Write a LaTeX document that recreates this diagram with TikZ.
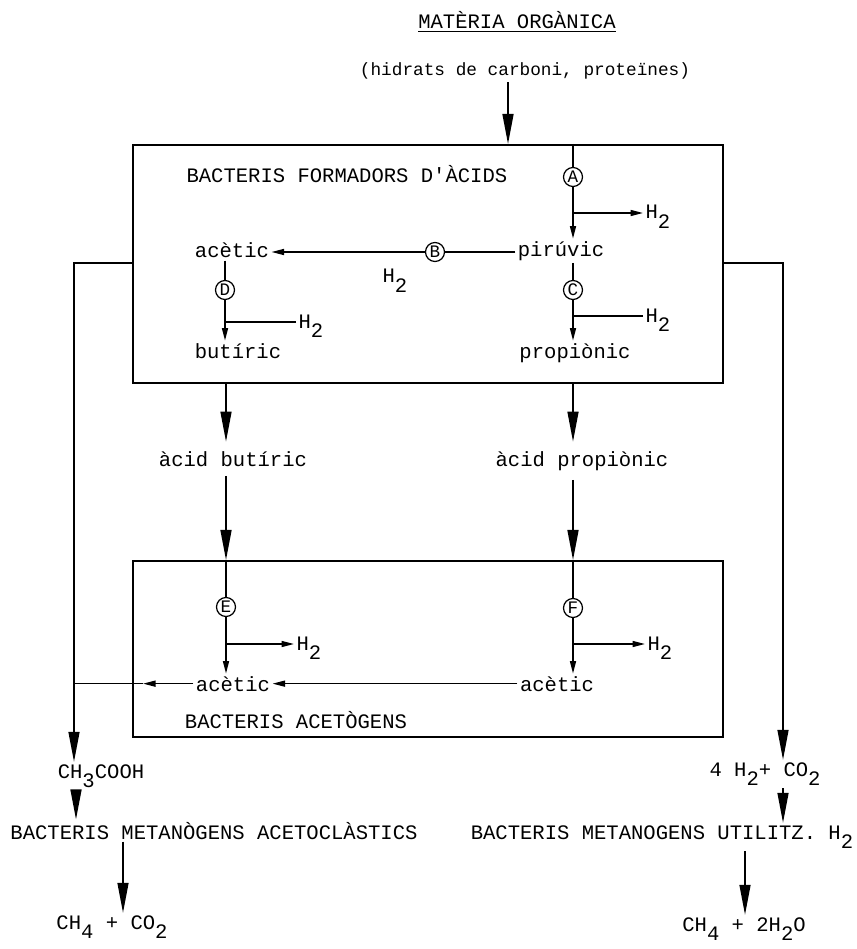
\documentclass[tikz,border=0pt]{standalone}
\usepackage{fontspec}
\setmonofont{Liberation Mono}
\usetikzlibrary{arrows.meta,positioning}
\newcommand{\dn}[1]{\raisebox{-5.5pt}{#1}}

\begin{document}
\begin{tikzpicture}[x=0.02cm,y=-0.02cm,line width=0.85pt,
   every node/.style={font=\ttfamily\fontsize{11.7}{13}\selectfont,inner sep=1pt},
   txt/.style={anchor=base},
   gap/.style={anchor=base,inner sep=5pt},
   box/.style={draw,line width=1.2pt,minimum width=11.8cm,inner sep=0pt},
   enzyme/.style={draw,circle,line width=0.7pt,inner sep=0pt,minimum size=0.38cm,
                  font=\ttfamily\fontsize{10}{10}\selectfont},
   big/.style={-{Triangle[length=0.6cm,width=0.22cm]}},
   small/.style={-{Triangle[length=0.25cm,width=0.12cm]}}]
   \useasboundingbox (0,0) rectangle (856,949);

   % boxes
   \node[box,minimum height=4.76cm] (box_1) at (428,264) {};
   \node[box,minimum height=3.52cm] (box_2) at (428,649) {};

   % columns
   \coordinate (x_in) at (508,0);
   \coordinate (x_L) at (74,0);
   \coordinate (x_R) at (783,0);
   \coordinate (x_1) at (226,0);
   \coordinate (x_2) at (573,0);
   \coordinate (x_3) at (76,0);
   \coordinate (x_4) at (123,0);
   \coordinate (x_5) at (745,0);
   \coordinate (m_L) at (143,0);
   \coordinate (y_exit) at (0,263);

   % top
   \node[txt] (title) at (517,29) {\underline{MATÈRIA ORGÀNICA}};
   \node[txt,font=\ttfamily\fontsize{10.1}{12}\selectfont] (source) at (525,76)
        {(hidrats de carboni, proteïnes)};
   \draw[big] (source.south -| x_in) -- (box_1.north -| x_in);

   % formadors d'acids
   \node[anchor=base west] (lab_1) at (184,183) {BACTERIS FORMADORS D'ÀCIDS};
   \node[enzyme] (c_A) at (573,177) {A};
   \node[txt] (piru) at (561,256) {pirúvic};
   \node[txt] (ace_1) at (232,258) {acètic};
   \node[enzyme] (c_B) at (435,252) {B};
   \node[anchor=base west] (h_B) at (380,283) {H\dn{2}};
   \node[enzyme] (c_C) at (573,290) {C};
   \node[txt] (prop) at (575,358) {propiònic};
   \node[enzyme] (c_D) at (225,290) {D};
   \node[txt] (buti) at (238,358) {butíric};
   \node[anchor=base west] (h_A) at (643,219) {H\dn{2}};
   \node[anchor=base west] (h_C) at (643,322) {H\dn{2}};
   \node[anchor=base west] (h_D) at (296,328) {H\dn{2}};
   \coordinate (b_A) at (573,213);
   \coordinate (b_C) at (573,316);
   \coordinate (b_D) at (225,322);

   \draw (box_1.north -| c_A) -- (c_A);
   \draw[small] (c_A) -- (piru.north -| c_A);
   \draw[small] (b_A) -- (h_A.west |- b_A);
   \draw (piru.west |- c_B) -- (c_B);
   \draw[small] (c_B) -- (ace_1.east |- c_B);
   \draw (piru.south -| c_C) -- (c_C);
   \draw[small] (c_C) -- (prop.north -| c_C);
   \draw (h_C.west |- b_C) -- (b_C);
   \draw (ace_1.south -| c_D) -- (c_D);
   \draw[small] (c_D) -- (buti.north -| c_D);
   \draw (h_D.west |- b_D) -- (b_D);

   % between the boxes
   \node[gap] (ac_bu) at (233,466) {àcid butíric};
   \node[gap] (ac_pr) at (582,466) {àcid propiònic};
   \draw[big] (box_1.south -| x_1) -- (ac_bu.north -| x_1);
   \draw[big] (ac_bu.south -| x_1) -- (box_2.north -| x_1);
   \draw[big] (box_1.south -| x_2) -- (ac_pr.north -| x_2);
   \draw[big] (ac_pr.south -| x_2) -- (box_2.north -| x_2);

   % acetogens
   \node[enzyme] (c_E) at (226,607) {E};
   \node[enzyme] (c_F) at (573,608) {F};
   \node[txt] (ace_2) at (233,691) {acètic};
   \node[txt] (ace_3) at (557,691) {acètic};
   \node[anchor=base west] (h_E) at (294,650) {H\dn{2}};
   \node[anchor=base west] (h_F) at (645,650) {H\dn{2}};
   \node[txt] (lab_2) at (296,728) {BACTERIS ACETÒGENS};
   \coordinate (b_E) at (226,644);
   \coordinate (b_F) at (573,644);

   \draw (box_2.north -| c_E) -- (c_E);
   \draw[small] (c_E) -- (ace_2.north -| c_E);
   \draw[small] (b_E) -- (h_E.west |- b_E);
   \draw (box_2.north -| c_F) -- (c_F);
   \draw[small] (c_F) -- (ace_3.north -| c_F);
   \draw[small] (b_F) -- (h_F.west |- b_F);
   \draw[small] (ace_3.west) -- (ace_2.east);
   \draw[small] (ace_2.west) -- (m_L |- ace_2.west);
   \draw (m_L |- ace_2.west) -- (x_L |- ace_2.west);

   % metanogens
   \node[txt] (ch3) at (101,778) {CH\dn{3}COOH};
   \node[txt] (met_A) at (214,839) {BACTERIS METANÒGENS ACETOCLÀSTICS};
   \node[txt] (ch4_A) at (112,929) {CH\dn{4} + CO\dn{2}};
   \node[txt] (h2co2) at (765,776) {4 H\dn{2}+ CO\dn{2}};
   \node[txt] (met_U) at (662,839) {BACTERIS METANOGENS UTILITZ. H\dn{2}};
   \node[txt] (ch4_U) at (744,931) {CH\dn{4} + 2H\dn{2}O};

   \draw[big] (box_1.west |- y_exit) -| (x_L |- ch3.north);
   \draw[big] (box_1.east |- y_exit) -| (x_R |- h2co2.north);
   \draw[big] (ch3.south -| x_3) -- (met_A.north -| x_3);
   \draw[big] (met_A.south -| x_4) -- (ch4_A.north -| x_4);
   \draw[big] (h2co2.south -| x_R) -- (met_U.north -| x_R);
   \draw[big] (met_U.south -| x_5) -- (ch4_U.north -| x_5);
\end{tikzpicture}
\end{document}
